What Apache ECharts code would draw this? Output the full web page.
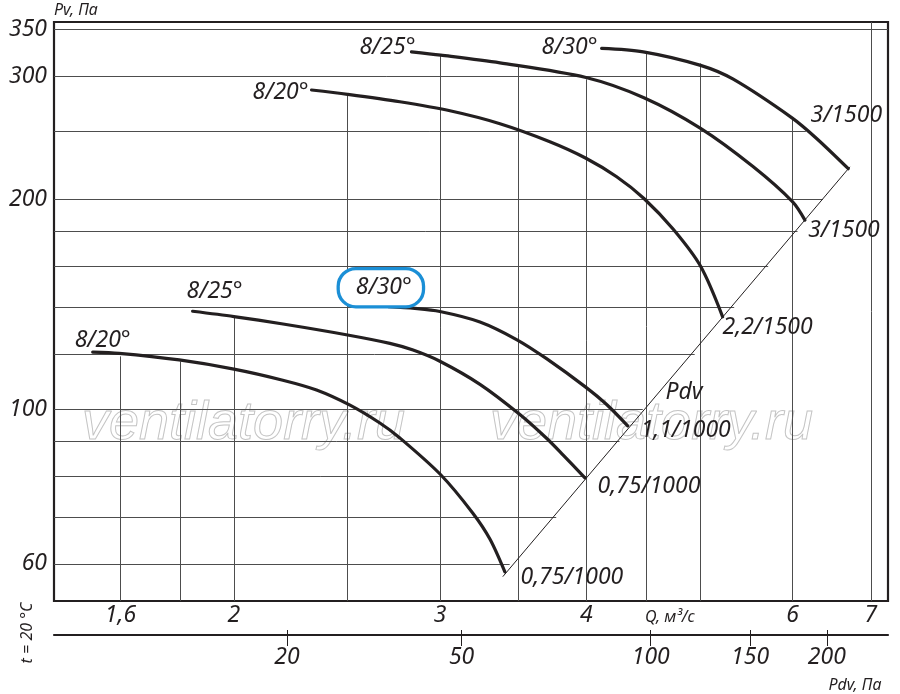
<!DOCTYPE html>
<html><head><meta charset="utf-8">
<script src="https://cdn.jsdelivr.net/npm/echarts@6/dist/echarts.min.js"></script>
<style>html,body{margin:0;padding:0;background:#fff}#c{width:900px;height:694px}</style>
</head><body><div id="c"></div>
<script>
// ---- axis data (raw values) ----
const qRange = [1.404, 7.24];
const pvRange = [53.06, 358.9];
const qTickLabels = [1.6, 2, 3, 4, 6, 7];
const pvTickLabels = [60, 100, 200, 300, 350];
const pdvTickLabels = [20, 50, 100, 150, 200];
const pdvTickAtQ = [2.22, 3.13, 4.54, 5.52, 6.42];

// grid lines (vertical: Q value and the Pv where the line stops; horizontal: Pv value and the Q where it stops)
const qGrid = [1.6, 1.8, 2, 2.5, 3, 3.5, 4, 4.5, 5, 6, 7];
const qGridTopPv = [119, 117, 135.5, 282, 322, 310, 297, 325, 313, 260, 358.9];
const pvGrid = [350, 300, 250, 200, 180, 160, 140, 120, 100, 90, 80, 70, 60];
const pvGridEndQ = [7.24, 5.2, 6.16, 6.37, 6.06, 5.72, 5.35, 4.95, 4.47, 4.27, 4.0, 3.77, 3.44];

// ---- fan curves (Q in m3/s, Pv in Pa) ----
const low20Q  = [1.515, 1.596, 1.796, 2.0, 2.202, 2.353, 2.513, 2.665, 2.772, 3.004, 3.200, 3.309, 3.408];
const low20Pv = [120.7, 120.2, 117.6, 114.1, 110.0, 106.5, 101.3, 95.5, 90.9, 80.5, 70.9, 65.1, 58.4];
const low25Q  = [1.844, 2.0, 2.203, 2.501, 2.718, 2.845, 2.999, 3.245, 3.510, 3.699, 3.822, 3.989];
const low25Pv = [138.1, 135.7, 132.4, 127.7, 124.2, 121.5, 117.1, 108.5, 98.2, 90.8, 85.9, 79.7];
const low30Q  = [2.71, 2.855, 2.999, 3.245, 3.487, 3.699, 3.995, 4.163, 4.339];
const low30Pv = [140.2, 139.4, 138.0, 133.3, 125.8, 118.1, 107.5, 101.5, 94.6];
const up20Q   = [2.330, 2.501, 2.772, 3.059, 3.375, 3.723, 3.997, 4.246, 4.480, 4.746, 5.008, 5.230];
const up20Pv  = [286.7, 282.6, 275.8, 267.7, 256.5, 241.7, 228.9, 215.3, 200.4, 181.0, 160.2, 135.6];
const up25Q   = [2.836, 3.004, 3.375, 3.997, 4.480, 5.008, 5.555, 6.002, 6.149];
const up25Pv  = [325.2, 321.7, 313.6, 298.8, 279.5, 252.6, 222.5, 198.2, 186.6];
const up30Q   = [4.122, 4.474, 5.008, 5.340, 6.002, 6.295, 6.696];
const up30Pv  = [328.9, 325.2, 311.0, 297.1, 261.1, 244.1, 221.1];
const pdvLineQ  = [3.394, 6.718];
const pdvLinePv = [57.5, 222.5];

const curveNames = ['8/20°', '8/25°', '8/30°', '8/20°', '8/25°', '8/30°'];
const motorNames = ['0,75/1000', '0,75/1000', '1,1/1000', '2,2/1500', '3/1500', '3/1500'];
const watermark = 'ventilatorry.ru';

// ---- rendering ----
const L = Math.log10;
const INK = '#231f20';
const FONT = '"Noto Sans", "Open Sans", sans-serif';
const txt = {color: INK, fontSize: 23, fontStyle: 'italic', fontFamily: FONT};

const startOffsets = [[10, -12], [22, -20], [-7.5, -19], [-31, 2], [-24, -4], [-32, -1]];
const endOffsets = [[67, 5], [64, 9], [58, 5], [45, 11], [39, 10], [-2, -53]];
const boxStyle = {borderColor: '#1b8fd6', borderWidth: 3.3, borderRadius: 16, backgroundColor: '#fff', padding: [7, 10, 5, 16]};

function curve(qArr, pArr, idx, boxed) {
  const data = qArr.map((q, i) => [L(q), L(pArr[i])]);
  const n = data.length - 1;
  data[0] = {value: data[0], label: Object.assign({show: true, formatter: curveNames[idx], position: 'inside', offset: startOffsets[idx]}, txt, boxed ? boxStyle : {})};
  data[n] = {value: data[n], label: Object.assign({show: true, formatter: motorNames[idx], position: 'inside', offset: endOffsets[idx]}, txt)};
  return {
    type: 'line', data, smooth: 0.3, symbol: 'circle', symbolSize: 1, showSymbol: true,
    lineStyle: {color: INK, width: 3.2, cap: 'round'}, itemStyle: {color: INK},
    label: Object.assign({show: false}, txt), z: 5, silent: true, clip: false
  };
}

const gridSegs = [];
qGrid.forEach((q, i) => gridSegs.push({coords: [[L(q), L(pvRange[0])], [L(q), L(qGridTopPv[i])]]}));
pvGrid.forEach((p, i) => gridSegs.push({coords: [[L(qRange[0]), L(p)], [L(pvGridEndQ[i]), L(p)]]}));

const qFmt = v => String(Math.round(Math.pow(10, v) * 10) / 10).replace('.', ',');
const pvFmt = v => String(Math.round(Math.pow(10, v)));
const pdvFmt = v => {
  const q = Math.pow(10, v);
  let best = 0;
  pdvTickAtQ.forEach((t, i) => { if (Math.abs(t - q) < Math.abs(pdvTickAtQ[best] - q)) best = i; });
  return String(pdvTickLabels[best]);
};

function note(text, x, y, size, align, extra) {
  return Object.assign({type: 'text', x, y, silent: true,
    style: {text, fontSize: size, fontStyle: 'italic', fontFamily: FONT, fill: INK,
      align: align, textAlign: align, verticalAlign: 'middle', textVerticalAlign: 'middle'}}, extra || {});
}
function mark(x) {
  return {type: 'text', x, y: 424, z: 0, silent: true,
    style: {text: watermark, fontSize: 54, fontStyle: 'italic', fontFamily: '"Liberation Sans", Arial, sans-serif',
      fill: 'rgba(255,255,255,0)', stroke: '#c4c4c4', lineWidth: 1,
      align: 'left', textAlign: 'left', verticalAlign: 'middle', textVerticalAlign: 'middle'}};
}

const xBase = {type: 'value', min: L(qRange[0]), max: L(qRange[1]), splitLine: {show: false}};
const option = {
  animation: false,
  backgroundColor: '#fff',
  grid: {left: 54, right: 12, top: 22, bottom: 93, show: true, borderColor: INK, borderWidth: 2.2},
  xAxis: [
    Object.assign({}, xBase, {axisLine: {show: false}, axisTick: {show: false},
      axisLabel: Object.assign({customValues: qTickLabels.map(L), formatter: qFmt, margin: 3}, txt)}),
    Object.assign({}, xBase, {position: 'bottom', offset: 34,
      axisLine: {show: true, lineStyle: {color: INK, width: 2.2}},
      axisTick: {show: true, customValues: pdvTickAtQ.map(L), length: 11, lineStyle: {color: INK, width: 1}},
      axisLabel: Object.assign({customValues: pdvTickAtQ.map(L), formatter: pdvFmt, margin: 11}, txt)}),
    Object.assign({}, xBase, {position: 'bottom', offset: 34, axisLine: {show: false},
      axisTick: {show: true, inside: true, customValues: pdvTickAtQ.map(L), length: 5, lineStyle: {color: INK, width: 1}},
      axisLabel: {show: false}})
  ],
  yAxis: {type: 'value', min: L(pvRange[0]), max: L(pvRange[1]), splitLine: {show: false},
    axisLine: {show: false}, axisTick: {show: false},
    axisLabel: Object.assign({customValues: pvTickLabels.map(L), formatter: pvFmt, margin: 7}, txt)},
  series: [
    {type: 'lines', coordinateSystem: 'cartesian2d', xAxisIndex: 0, yAxisIndex: 0, data: gridSegs, silent: true, z: 1,
     lineStyle: {color: '#4d4d4d', width: 1, opacity: 1}},
    {type: 'line', data: pdvLineQ.map((q, i) => [L(q), L(pdvLinePv[i])]), symbol: 'none', silent: true, z: 3,
     lineStyle: {color: INK, width: 1}},
    curve(low20Q, low20Pv, 0, false),
    curve(low25Q, low25Pv, 1, false),
    curve(low30Q, low30Pv, 2, true),
    curve(up20Q, up20Pv, 3, false),
    curve(up25Q, up25Pv, 4, false),
    curve(up30Q, up30Pv, 5, false)
  ],
  graphic: [
    mark(82),
    mark(490),
    note('Pv, Па', 54, 10, 16, 'left'),
    note('Q, м³/с', 670, 617, 16, 'center'),
    note('Pdv, Па', 855, 685, 16, 'center'),
    note('Pdv', 684, 392, 23, 'center', {z: 10}),
    note('t = 20 °C', 27, 633, 16, 'center', {rotation: Math.PI / 2})
  ]
};
const chart = echarts.init(document.getElementById('c'), null, {renderer: 'canvas'});
chart.setOption(option);
</script>
</body></html>
